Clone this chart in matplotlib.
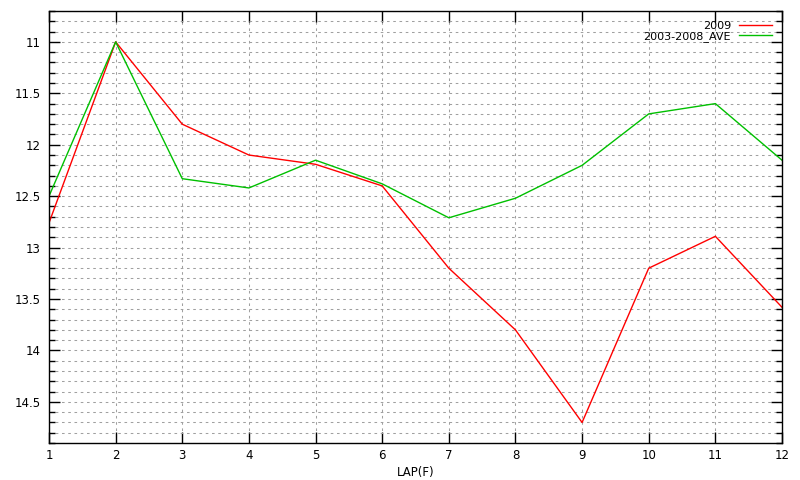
import numpy as np
import matplotlib.pyplot as plt
from matplotlib.ticker import MultipleLocator, FuncFormatter

# Data
laps = [1, 2, 3, 4, 5, 6, 7, 8, 9, 10, 11, 12]
lap_2009 = [12.76, 11.0, 11.8, 12.1, 12.19, 12.4, 13.2, 13.8, 14.7, 13.2, 12.89, 13.58]
lap_ave = [12.5, 11.0, 12.33, 12.42, 12.15, 12.38, 12.71, 12.52, 12.2, 11.7, 11.6, 12.15]

fig = plt.figure(figsize=(8, 4.8), dpi=100)
ax = fig.add_axes([0.06125, 0.077, 0.91625, 0.9])

ax.plot(laps, lap_2009, color='#ff0000', lw=1, label='2009')
ax.plot(laps, lap_ave, color='#00c000', lw=1, label='2003-2008_AVE')

# Axis ranges (y inverted like the original)
ax.set_xlim(1, 12)
ax.set_ylim(14.9, 10.7)

ax.xaxis.set_major_locator(MultipleLocator(1))
ax.yaxis.set_major_locator(MultipleLocator(0.5))
ax.yaxis.set_minor_locator(MultipleLocator(0.1))
ax.yaxis.set_major_formatter(FuncFormatter(lambda v, p: f'{v:g}'))

ax.tick_params(which='major', direction='in', length=8, width=1,
               top=True, right=True, labelsize=8.5)
ax.tick_params(axis='x', pad=4)
ax.tick_params(axis='y', pad=6)
ax.tick_params(which='minor', direction='in', length=4.5, width=1,
               left=True, right=True)

# Dotted grid
grid_style = dict(color='#a0a0a0', linestyle=(0, (2.5, 3.5)), linewidth=0.75)
ax.grid(which='major', axis='x', **grid_style)
ax.grid(which='both', axis='y', **grid_style)

for s in ax.spines.values():
    s.set_linewidth(1)

ax.set_xlabel('LAP(F)', fontsize=8.5, labelpad=3)

ax.legend(loc='upper right', frameon=False, markerfirst=False, fontsize=8,
          handlelength=3.0, handletextpad=0.7, borderaxespad=0.6,
          borderpad=0.3, labelspacing=0.0)

plt.savefig('out.png')
